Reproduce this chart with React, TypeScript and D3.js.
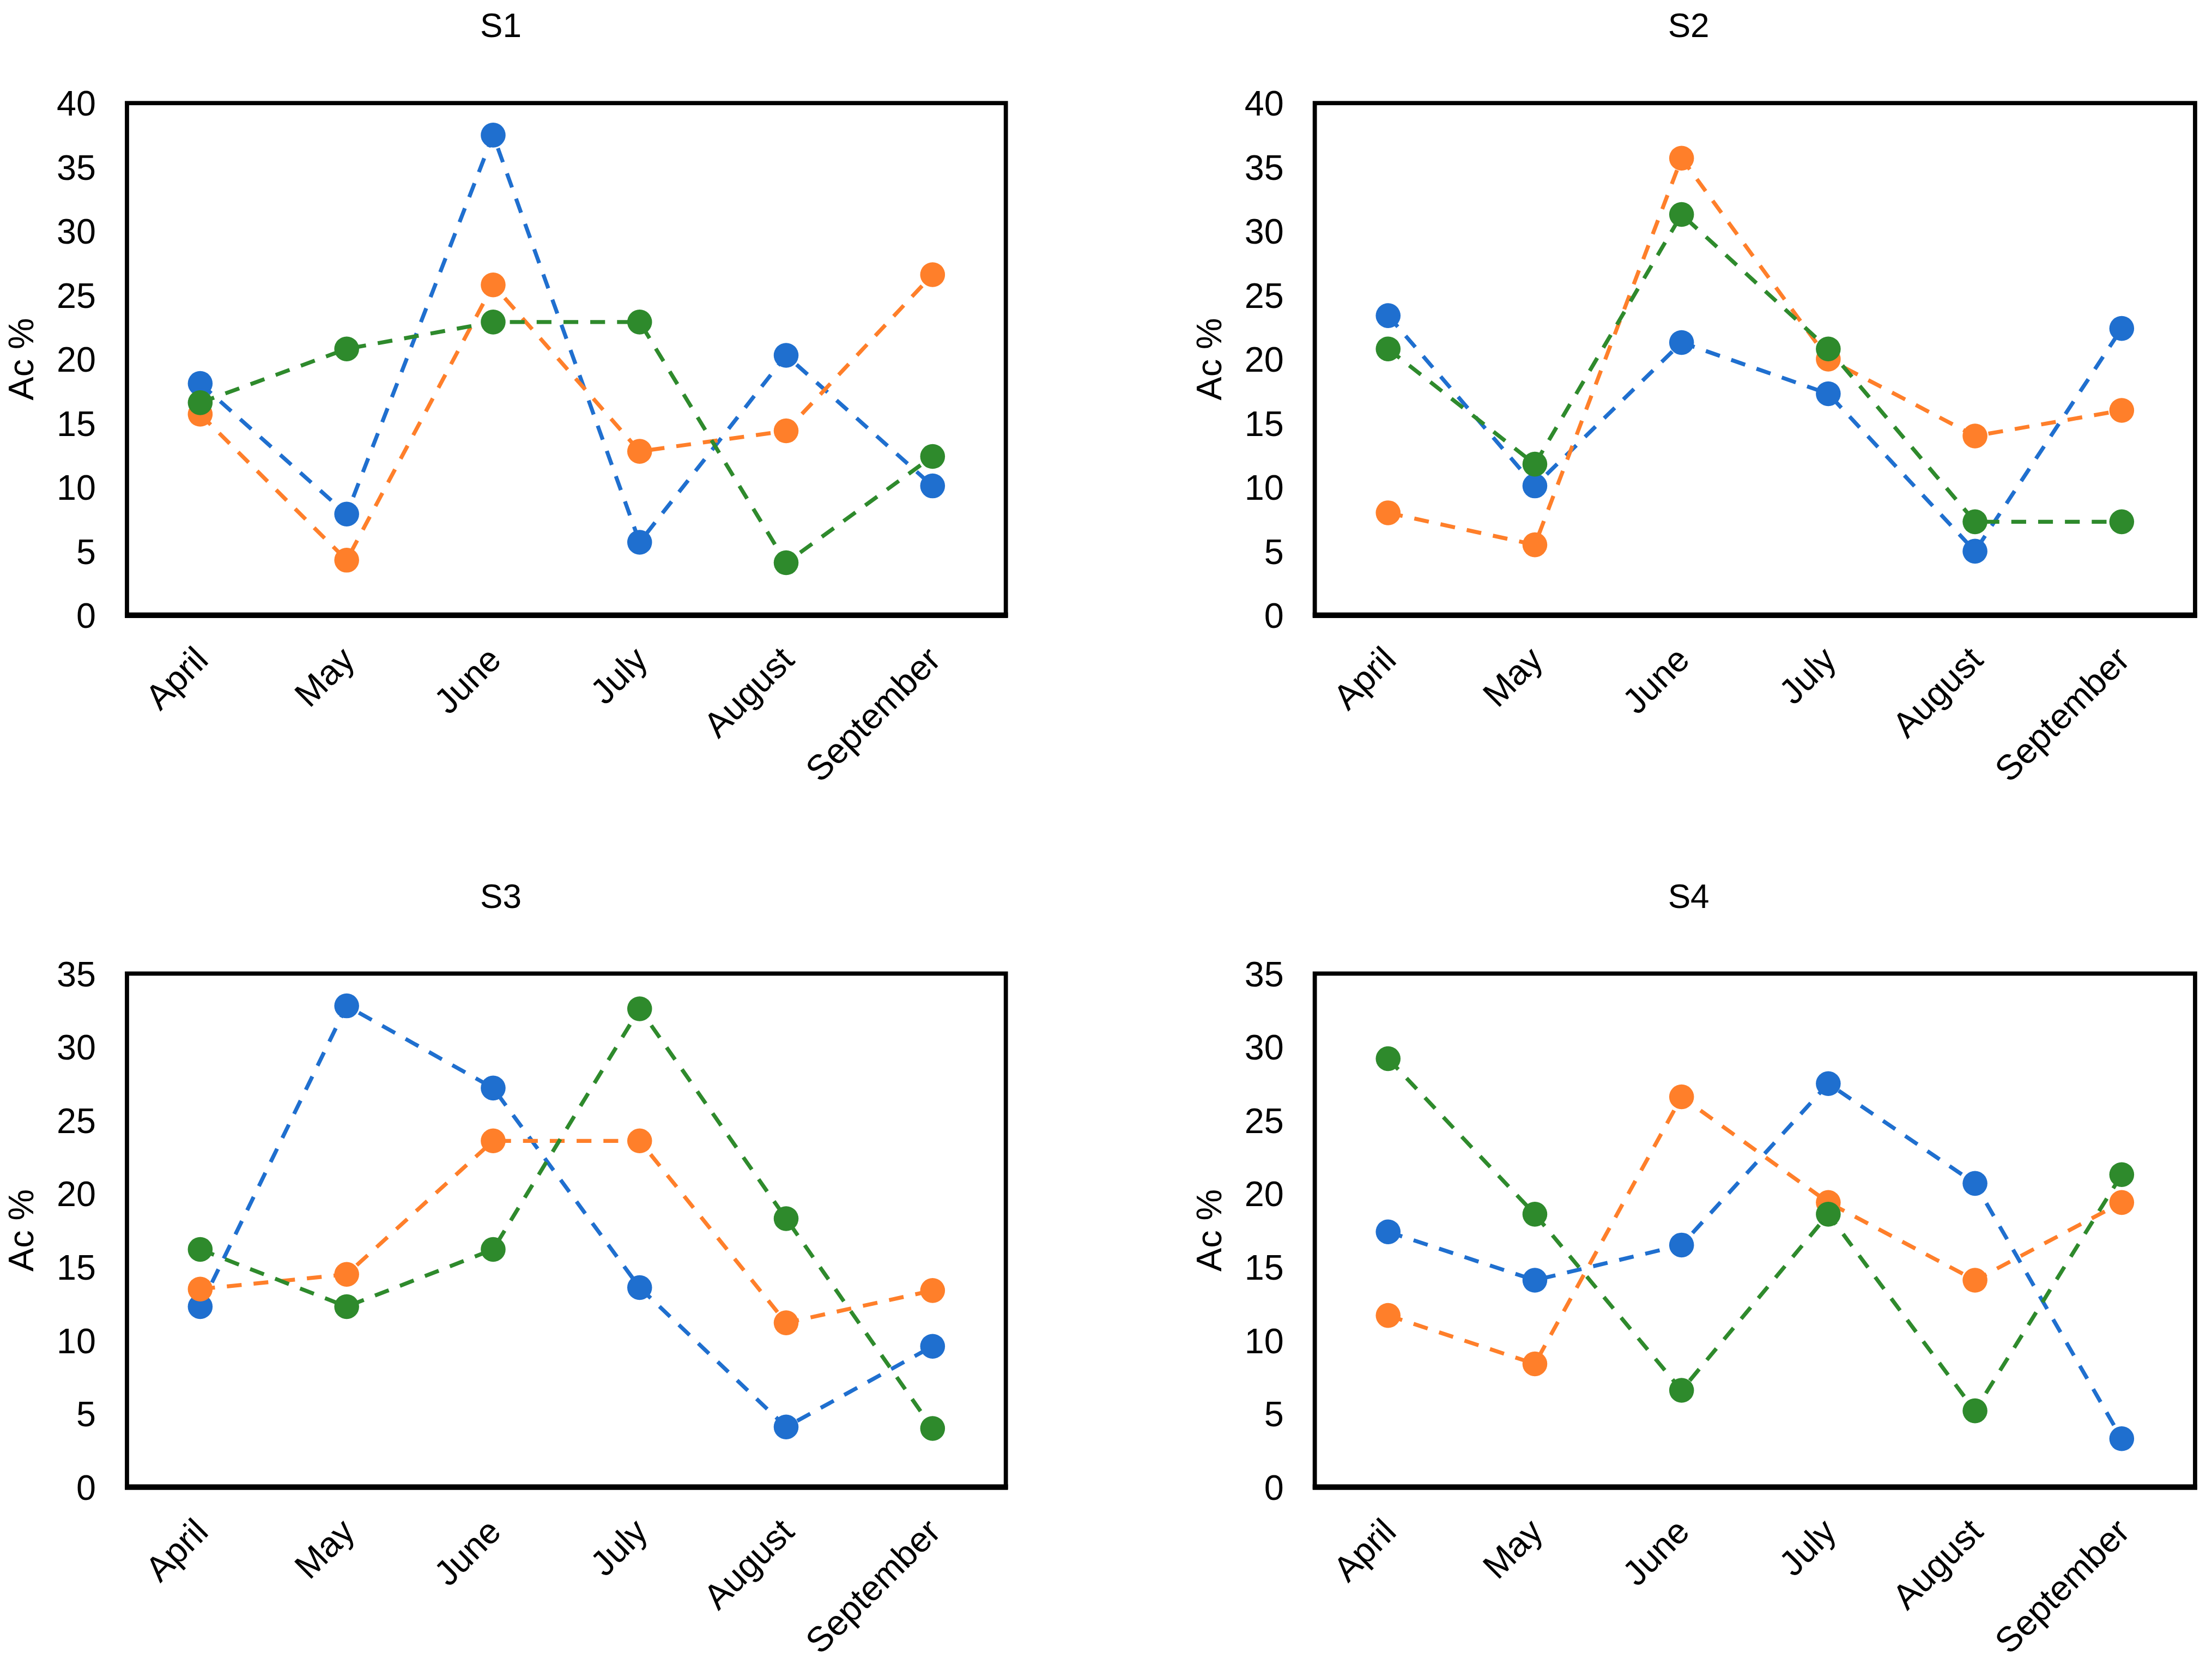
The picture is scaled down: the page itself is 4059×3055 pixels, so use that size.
import React from "react";
import * as d3 from "d3";

const MONTHS = ["April", "May", "June", "July", "August", "September"];

const S1_BLUE = [18.1, 7.9, 37.5, 5.7, 20.3, 10.1];
const S1_ORANGE = [15.7, 4.3, 25.8, 12.8, 14.4, 26.6];
const S1_GREEN = [16.6, 20.8, 22.9, 22.9, 4.1, 12.4];

const S2_BLUE = [23.4, 10.1, 21.3, 17.3, 5.0, 22.4];
const S2_ORANGE = [8.0, 5.5, 35.7, 20.0, 14.0, 16.0];
const S2_GREEN = [20.8, 11.8, 31.3, 20.8, 7.3, 7.3];

const S3_BLUE = [12.3, 32.8, 27.2, 13.6, 4.1, 9.6];
const S3_ORANGE = [13.5, 14.5, 23.6, 23.6, 11.2, 13.4];
const S3_GREEN = [16.2, 12.3, 16.2, 32.6, 18.3, 4.0];

const S4_BLUE = [17.4, 14.1, 16.5, 27.5, 20.7, 3.3];
const S4_ORANGE = [11.7, 8.4, 26.6, 19.4, 14.1, 19.4];
const S4_GREEN = [29.2, 18.6, 6.6, 18.6, 5.2, 21.3];

const TICKS_40 = [0, 5, 10, 15, 20, 25, 30, 35, 40];
const TICKS_35 = [0, 5, 10, 15, 20, 25, 30, 35];

const COLORS = ["#1F6FCF", "#FF7F2A", "#2E8A2C"];

const FONT = "'Liberation Sans', Arial, sans-serif";

type PanelProps = {
  title: string;
  series: number[][];
  ticks: number[];
  left: number;
  top: number;
  width: number;
  height: number;
  titleX: number;
};

function Panel({ title, series, ticks, left, top, width, height, titleX }: PanelProps) {
  const x = d3.scalePoint<string>().domain(MONTHS).range([left, left + width]).padding(0.5);
  const yMax = ticks[ticks.length - 1];
  const y = d3.scaleLinear().domain([0, yMax]).range([top + height, top]);
  const line = d3
    .line<number>()
    .x((_, i) => x(MONTHS[i]) as number)
    .y((d) => y(d));
  return (
    <g>
      <text x={titleX} y={top - 53} textAnchor="middle" dominantBaseline="middle" fontSize={24} fontFamily={FONT} fill="#000">
        {title}
      </text>
      <text
        transform={`translate(${left - 73},${top + height / 2}) rotate(-90)`}
        textAnchor="middle"
        dominantBaseline="middle"
        fontSize={25}
        fontFamily={FONT}
        fill="#000"
      >
        Ac %
      </text>
      {ticks.map((t) => (
        <text key={t} x={left - 22} y={y(t)} dy="0.36em" textAnchor="end" fontSize={25} fontFamily={FONT} fill="#000">
          {t}
        </text>
      ))}
      {MONTHS.map((m) => (
        <text
          key={m}
          transform={`translate(${(x(m) as number) + 7},${top + height + 33}) rotate(-45)`}
          textAnchor="end"
          fontSize={25}
          fontFamily={FONT}
          fill="#000"
        >
          {m}
        </text>
      ))}
      <rect x={left} y={top} width={width} height={height} fill="none" stroke="#000" strokeWidth={3} />
      <line x1={left - 1.5} x2={left + width + 1.5} y1={top + height} y2={top + height} stroke="#000" strokeWidth={4} />
      {series.map((s, si) => (
        <g key={si}>
          <path d={line(s) || ""} fill="none" stroke={COLORS[si]} strokeWidth={2.8} strokeDasharray="10.5 8.5" />
          {s.map((v, i) => (
            <circle key={i} cx={x(MONTHS[i]) as number} cy={y(v)} r={8.8} fill={COLORS[si]} />
          ))}
        </g>
      ))}
    </g>
  );
}

export default function App() {
  return (
    <svg
      width={4059}
      height={3055}
      viewBox="0 0 1568 1180"
      style={{ position: "absolute", left: 0, top: 0, background: "#fff" }}
    >
      <rect x={0} y={0} width={1568} height={1180} fill="#fff" />
      <Panel title="S1" series={[S1_BLUE, S1_ORANGE, S1_GREEN]} ticks={TICKS_40} left={90} top={73} width={623} height={363} titleX={355} />
      <Panel title="S2" series={[S2_BLUE, S2_ORANGE, S2_GREEN]} ticks={TICKS_40} left={932} top={73} width={624} height={363} titleX={1197} />
      <Panel title="S3" series={[S3_BLUE, S3_ORANGE, S3_GREEN]} ticks={TICKS_35} left={90} top={690} width={623} height={364} titleX={355} />
      <Panel title="S4" series={[S4_BLUE, S4_ORANGE, S4_GREEN]} ticks={TICKS_35} left={932} top={690} width={624} height={364} titleX={1197} />
    </svg>
  );
}
